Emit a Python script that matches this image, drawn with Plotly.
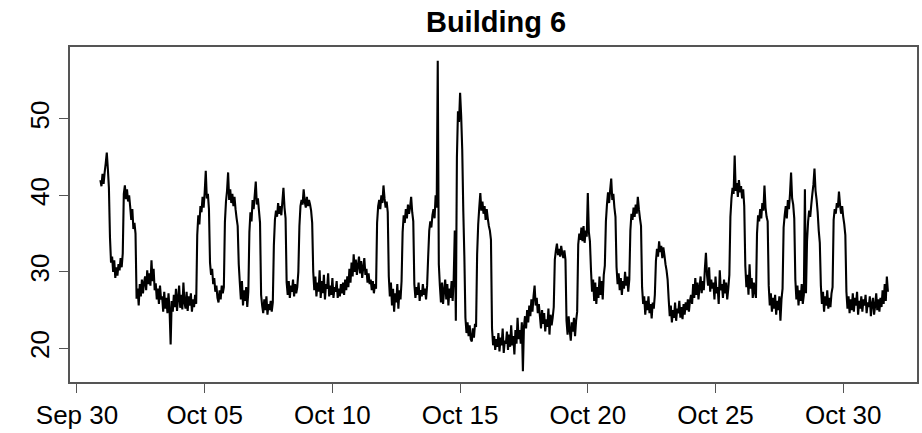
import pandas as pd
import plotly.graph_objects as go

# Hourly readings for Building 6, starting 2016-09-30 22:00
series_start = "2016-09-30 22:00"

load_w1 = [
    42.0, 41.2, 42.8, 41.5, 43.0, 44.2, 45.6, 43.5, 41.0,
    34.5, 31.2, 32.0, 30.0, 31.5, 29.2, 30.6, 29.5, 31.0, 30.2, 31.8, 30.6, 32.4,
    40.2, 41.3, 39.5, 40.8, 39.2, 40.0,
    38.5, 36.8, 38.2, 35.6, 36.4, 35.0,
    26.5, 27.8, 25.6, 28.4, 26.8, 29.0, 27.2, 28.6,
    29.4, 27.6, 30.2, 28.4, 29.8, 28.2, 31.5, 28.8, 30.4, 27.6,
    28.5, 26.4, 27.8, 25.8, 28.2, 26.4,
    26.8, 24.8, 27.4, 25.2, 26.6, 24.6, 27.2, 25.0, 20.5, 26.2, 24.8, 27.0, 25.4,
    27.8, 24.9, 26.6, 28.2, 25.3, 27.0, 25.1, 28.6, 26.0,
    25.2, 27.4, 24.9, 26.8, 25.6, 27.2, 24.8, 26.4, 25.4, 27.0, 25.8,
    34.8, 37.4, 36.2, 38.6, 37.8, 39.8, 38.4, 40.4, 43.2, 39.6, 40.2, 38.2,
    31.2, 29.6, 30.4, 28.4, 29.2, 27.4, 28.2, 26.6, 26.0, 27.6, 26.4, 28.2, 27.2, 28.0,
    36.5, 39.2, 40.6, 43.0, 39.4, 40.8, 39.0, 40.2, 38.6, 39.8, 38.2, 37.0, 36.0,
    31.0, 28.6, 26.4, 28.8, 25.6, 27.6, 26.2, 28.0, 25.4, 27.4,
    35.2, 37.8, 36.6, 39.4, 38.2, 40.0, 41.8, 38.8, 39.6, 38.0, 36.4, 27.0,
    25.6, 24.6, 26.4, 25.0, 26.8, 24.4, 25.8, 25.0, 26.2, 24.8, 26.0, 33.5,
]

load_w2 = [
    36.8, 38.0, 37.2, 39.0, 37.6, 38.6, 37.4, 39.2, 41.0, 38.4, 37.0,
    28.6, 27.0, 28.8, 26.6, 28.2, 27.4, 29.0, 26.8, 28.4, 27.2, 28.0, 30.0,
    36.0, 38.6, 39.4, 38.8, 40.8, 39.2, 38.4, 39.8, 38.6, 39.4, 38.8, 38.0, 36.4,
    30.0, 27.6, 29.4, 26.8, 28.6, 27.4, 30.2, 26.6, 28.8, 27.2, 29.6, 26.4,
    28.4, 27.8, 29.8, 26.8, 28.2, 27.0, 29.2, 26.6, 28.0, 27.4, 28.8, 26.6,
    27.8, 26.8, 28.4, 27.2, 28.6, 27.0, 29.0, 27.6, 29.4, 28.0, 30.4, 28.6,
    31.2, 29.4, 32.3, 30.0, 31.6, 29.6, 30.8, 32.0, 29.8, 31.4,
    29.2, 30.6, 31.8, 29.6, 30.4, 28.6, 29.8, 28.4, 29.0,
    27.6, 28.8, 27.2, 28.4, 27.8,
    36.4, 38.6, 39.4, 38.2, 40.0, 39.0, 41.3, 39.6, 38.4, 39.2, 37.8,
    29.4, 26.8, 28.6, 25.6, 27.8, 24.8, 27.2, 26.0, 28.4, 25.2, 27.6, 26.4, 28.8,
    35.2, 37.4, 36.4, 38.2, 37.0, 38.8, 37.6, 38.4, 39.8, 37.8, 36.6,
    28.4, 26.6, 28.0, 27.0, 28.6, 26.2, 27.6, 26.8, 28.4, 27.0, 27.8, 26.4, 28.2,
    32.0, 35.4, 36.6, 35.8, 37.4, 38.2, 37.0, 40.0, 38.4,
    57.6, 31.0,
    28.2, 26.0, 28.6, 25.8, 27.6, 29.0, 26.4, 28.4, 25.6, 27.8, 26.6, 28.8, 26.2, 29.2,
    35.4, 23.6, 45.0, 51.0, 49.6, 53.4, 50.4, 46.0, 38.0, 32.0,
]

load_w3 = [
    24.0, 22.0, 23.4, 21.6, 23.0, 21.2, 20.9, 22.6, 21.4, 23.2, 22.8,
    32.3, 36.2, 38.4, 40.3, 38.0, 39.2, 37.6, 38.6, 36.8, 38.2, 37.0, 36.0, 35.4, 34.2,
    22.6, 20.4, 21.6, 19.8, 21.2, 20.2, 22.0, 19.6, 21.4, 20.4,
    22.6, 19.4, 21.0, 20.6, 22.2, 19.8, 21.8, 20.2, 23.0, 20.4,
    21.6, 19.2, 22.4, 20.6, 24.0, 21.2, 22.4, 20.6, 23.4, 17.0,
    22.8, 24.2, 22.6, 25.0, 23.4, 25.6, 24.2, 26.4, 24.8, 26.8, 28.2, 25.6, 26.6, 24.6, 25.8,
    24.2, 22.6, 25.0, 23.2, 24.6, 22.2, 23.8, 22.8, 25.2, 21.8, 24.4, 23.0, 24.0, 25.4,
    31.6, 32.8, 33.7, 32.2, 33.0, 32.0, 33.4, 32.4, 31.8, 32.8, 31.6,
    23.6, 21.8, 24.2, 22.4, 21.0, 23.4, 22.2, 24.0, 21.6, 23.6, 24.8,
    33.6, 35.0, 34.2, 35.8, 34.0, 36.0, 33.8, 35.4, 34.6, 40.3, 35.2, 34.0,
    30.2, 27.4, 29.0, 26.2, 28.6, 25.8, 28.0, 26.6, 29.4, 27.0, 28.8, 26.4, 29.6, 30.8,
    36.6, 38.8, 40.4, 39.0, 40.7, 42.2, 39.4, 40.2, 38.4, 37.2,
    30.6, 28.4, 29.8, 27.6, 29.2, 27.0, 28.8, 27.8, 30.0, 28.2, 29.4, 27.4, 29.0,
    35.4, 37.6, 36.8, 38.4, 37.2, 38.8, 37.6, 39.8, 38.2, 37.0, 36.0,
]

load_w4 = [
    28.0, 25.8, 26.8, 24.4, 26.2, 25.0, 26.8, 24.6, 25.8, 23.9, 26.0, 25.2, 27.0,
    31.4, 33.0, 32.0, 34.0, 32.6, 33.4, 31.8, 33.2, 32.2, 31.0, 30.2, 29.0,
    26.4, 24.2, 25.6, 23.4, 25.0, 24.0, 26.0, 23.6, 25.2, 24.6, 26.2,
    24.0, 25.4, 23.8, 25.8, 24.4, 26.0, 25.0, 26.4, 24.8, 26.2,
    27.0, 25.8, 28.4, 26.6, 29.2, 27.0, 28.6, 26.4, 28.0, 29.4, 27.2,
    28.8, 27.6, 30.4, 32.5, 29.6, 28.2, 30.6, 27.4, 29.0, 27.8,
    28.6, 26.4, 29.4, 27.2, 28.0, 25.8, 30.2, 27.6, 28.4, 26.6, 29.0, 27.2, 28.6, 26.4, 27.8, 29.6,
    37.2, 39.6, 41.0, 40.2, 45.2, 40.6, 41.6, 39.8, 42.0, 40.4, 41.2, 39.6, 40.8, 38.6,
    30.8, 28.0, 29.6, 27.0, 31.0, 27.8, 29.2, 26.6, 28.6, 27.4, 26.6,
    35.0, 37.4, 36.6, 38.2, 37.0, 39.0, 38.0, 41.3, 38.4, 37.2, 36.6,
    28.2, 25.6, 27.2, 24.8, 26.6, 25.2, 27.0, 24.4, 26.2, 25.0, 26.8, 23.6, 26.4, 27.8,
    35.8, 37.4, 38.6, 37.0, 39.4, 38.2, 40.2, 43.0, 39.6, 38.8, 37.0,
    29.0, 26.4, 28.2, 25.6, 27.6, 26.2, 28.4, 25.8, 27.0, 40.8, 27.2,
    34.0, 36.6, 38.0, 37.2, 38.8, 40.2, 41.4, 43.5, 40.6, 39.4, 37.8, 35.4, 33.8,
]

load_w5 = [
    28.2, 25.8, 27.4, 24.8, 26.8, 25.6, 27.6, 25.2, 26.6, 25.4, 27.2, 28.0,
    36.8, 38.2, 37.6, 39.0, 38.4, 40.5, 38.8, 37.6, 38.6, 37.2, 36.2, 34.8,
    27.4, 25.2, 26.8, 24.6, 26.4, 25.0, 27.2, 24.8, 26.6, 25.6,
    27.4, 24.4, 26.2, 25.2, 26.8, 24.8, 26.4, 25.6, 27.0, 24.6,
    26.0, 25.4, 26.8, 24.2, 25.8, 26.6, 24.4, 25.6, 27.2, 25.0,
    26.4, 24.8, 26.6, 25.4, 27.6, 25.8, 28.4, 26.2, 29.4, 27.4,
]

tick_dates = ["2016-09-30", "2016-10-05", "2016-10-10", "2016-10-15",
              "2016-10-20", "2016-10-25", "2016-10-30"]
tick_labels = ["Sep 30", "Oct 05", "Oct 10", "Oct 15", "Oct 20", "Oct 25", "Oct 30"]
y_ticks = [20, 30, 40, 50]

values = load_w1 + load_w2 + load_w3 + load_w4 + load_w5
times = pd.date_range(series_start, periods=len(values), freq="h")

fig = go.Figure(
    go.Scatter(x=times, y=values, mode="lines",
               line=dict(color="black", width=2.1, simplify=False),
               hoverinfo="x+y")
)

font_family = "Liberation Sans, Arial, sans-serif"
axis_color = "#555555"

fig.update_layout(
    width=922, height=433,
    margin=dict(l=70, r=3, t=47, b=50),
    paper_bgcolor="white", plot_bgcolor="white",
    showlegend=False,
    title=dict(text="<b>Building 6</b>", x=0.538, xanchor="center",
               y=0.95, yanchor="middle",
               font=dict(family=font_family, size=29, color="black")),
    font=dict(family=font_family, color="black"),
)

fig.update_xaxes(
    range=["2016-09-29 17:26", "2016-11-01 21:20"],
    tickmode="array", tickvals=tick_dates, ticktext=tick_labels,
    ticks="outside", ticklen=9, tickwidth=1.2, tickcolor=axis_color,
    showline=True, mirror=True, linecolor=axis_color, linewidth=1.5,
    showgrid=False, zeroline=False,
    tickfont=dict(family=font_family, size=26, color="black"),
)

fig.update_yaxes(
    range=[15.6, 59.4],
    tickmode="array", tickvals=y_ticks,
    ticks="outside", ticklen=9, tickwidth=1.2, tickcolor=axis_color,
    tickangle=-90,
    showline=True, mirror=True, linecolor=axis_color, linewidth=1.5,
    showgrid=False, zeroline=False,
    tickfont=dict(family=font_family, size=26, color="black"),
)

fig.write_html("out.html")
